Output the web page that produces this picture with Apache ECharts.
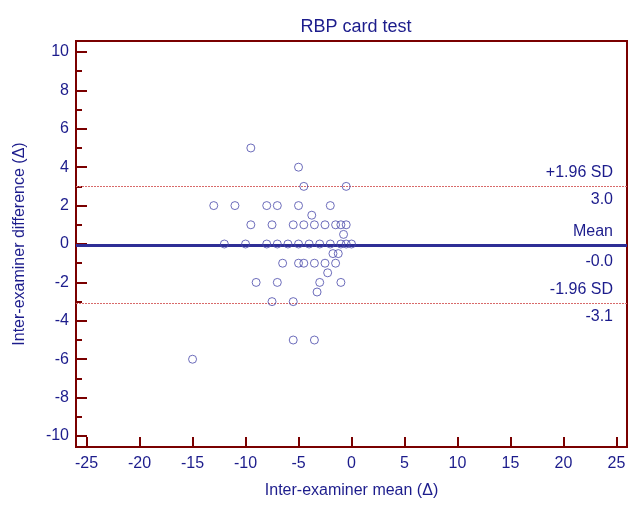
<!DOCTYPE html>
<html>
<head>
<meta charset="utf-8">
<script src="https://cdn.jsdelivr.net/npm/echarts@6/dist/echarts.min.js"></script>
<style>
  html, body { margin: 0; padding: 0; background: #fff; }
  #main { width: 634px; height: 505px; }
</style>
</head>
<body>
<div id="main"></div>
<script>
// Bland-Altman: mean of two examiners (x) vs difference (y)
const meanVals = [
  -9.5, -5, -4.5, -0.5,
  -13, -11, -8, -7, -5, -2,
  -3.75,
  -9.5, -7.5, -5.5, -4.5, -3.5, -2.5, -1.5, -1, -0.5,
  -0.75,
  -12, -10, -8, -7, -6, -5, -4, -3, -2, -1, -0.5, 0,
  -1.75, -1.25,
  -6.5, -5, -4.5, -3.5, -2.5, -1.5,
  -2.25,
  -9, -7, -3, -1,
  -3.25,
  -7.5, -5.5,
  -5.5, -3.5,
  -15
];
const diffVals = [
  5, 4, 3, 3,
  2, 2, 2, 2, 2, 2,
  1.5,
  1, 1, 1, 1, 1, 1, 1, 1, 1,
  0.5,
  0, 0, 0, 0, 0, 0, 0, 0, 0, 0, 0, 0,
  -0.5, -0.5,
  -1, -1, -1, -1, -1, -1,
  -1.5,
  -2, -2, -2, -2,
  -2.5,
  -3, -3,
  -5, -5,
  -6
];

const xTicks = [-25, -20, -15, -10, -5, 0, 5, 10, 15, 20, 25];
const yTicks = [-10, -8, -6, -4, -2, 0, 2, 4, 6, 8, 10];
const yMinorTicks = [-9, -7, -5, -3, -1, 1, 3, 5, 7, 9];

const meanDiff = -0.05;
const upperLimit = 3.0;
const lowerLimit = -3.1;
const limitNames = ['+1.96 SD', 'Mean', '-1.96 SD'];
const limitTexts = ['3.0', '-0.0', '-3.1'];

const frameColor = '#7a0000';
const textColor = '#1c1c8c';
const font = 'Liberation Sans, Arial, sans-serif';

const points = meanVals.map((m, i) => [m, diffVals[i]]);

function limitLine(value, name, text, style, up, down) {
  return [
    {
      yAxis: value,
      lineStyle: style,
      label: {
        show: true, position: 'insideEndTop', formatter: name,
        distance: [14, up], color: textColor, fontSize: 16, fontFamily: font
      }
    },
    {
      yAxis: value,
      lineStyle: style,
      label: {
        show: true, position: 'insideEndBottom', formatter: text,
        distance: [14, down], color: textColor, fontSize: 16, fontFamily: font
      }
    }
  ];
}

const sdStyle = {color: '#d86a6a', width: 1, type: [2, 1], opacity: 1};
const meanStyle = {color: '#2e2e96', width: 3, type: 'solid', opacity: 1};

const chart = echarts.init(document.getElementById('main'));
chart.setOption({
  animation: false,
  title: {
    text: 'RBP card test',
    left: 351, top: 13, textAlign: 'center',
    textStyle: {color: textColor, fontSize: 18, fontWeight: 'normal', fontFamily: font}
  },
  grid: {
    left: 76, right: 7, top: 41, bottom: 58,
    show: true, borderColor: frameColor, borderWidth: 2, backgroundColor: '#fff'
  },
  xAxis: {
    type: 'value', min: -26, max: 26,
    name: 'Inter-examiner mean (Δ)', nameLocation: 'middle', nameGap: 36,
    nameTextStyle: {color: textColor, fontSize: 16, fontFamily: font},
    axisLine: {show: true, onZero: false, lineStyle: {color: frameColor, width: 2}},
    axisTick: {show: true, inside: true, length: 10, customValues: xTicks,
      lineStyle: {color: frameColor, width: 2}},
    axisLabel: {customValues: xTicks, margin: 9, color: textColor, fontSize: 16, fontFamily: font},
    splitLine: {show: false}
  },
  yAxis: [
    {
      type: 'value', min: -10.57, max: 10.57,
      name: 'Inter-examiner difference (Δ)', nameLocation: 'middle', nameGap: 48,
      nameTextStyle: {color: textColor, fontSize: 16, fontFamily: font},
      axisLine: {show: true, onZero: false, lineStyle: {color: frameColor, width: 2}},
      axisTick: {show: true, inside: true, length: 11, customValues: yTicks,
        lineStyle: {color: frameColor, width: 2}},
      axisLabel: {customValues: yTicks, margin: 7, color: textColor, fontSize: 16, fontFamily: font},
      splitLine: {show: false}
    },
    {
      type: 'value', min: -10.57, max: 10.57, position: 'left',
      axisLine: {show: false, onZero: false},
      axisTick: {show: true, inside: true, length: 6, customValues: yMinorTicks,
        lineStyle: {color: frameColor, width: 2}},
      axisLabel: {show: false},
      splitLine: {show: false}
    }
  ],
  series: [
    {
      type: 'scatter',
      data: points,
      symbol: 'circle',
      symbolSize: 8,
      itemStyle: {color: 'rgba(0,0,0,0)', borderColor: '#4848aa', borderWidth: 1},
      z: 5,
      markLine: {
        silent: true,
        symbol: ['none', 'none'],
        data: [
          ...limitLine(upperLimit, limitNames[0], limitTexts[0], sdStyle, 6, 5),
          ...limitLine(meanDiff, limitNames[1], limitTexts[1], meanStyle, 5, 9),
          ...limitLine(lowerLimit, limitNames[2], limitTexts[2], sdStyle, 6, 5)
        ]
      }
    }
  ]
});
</script>
</body>
</html>
